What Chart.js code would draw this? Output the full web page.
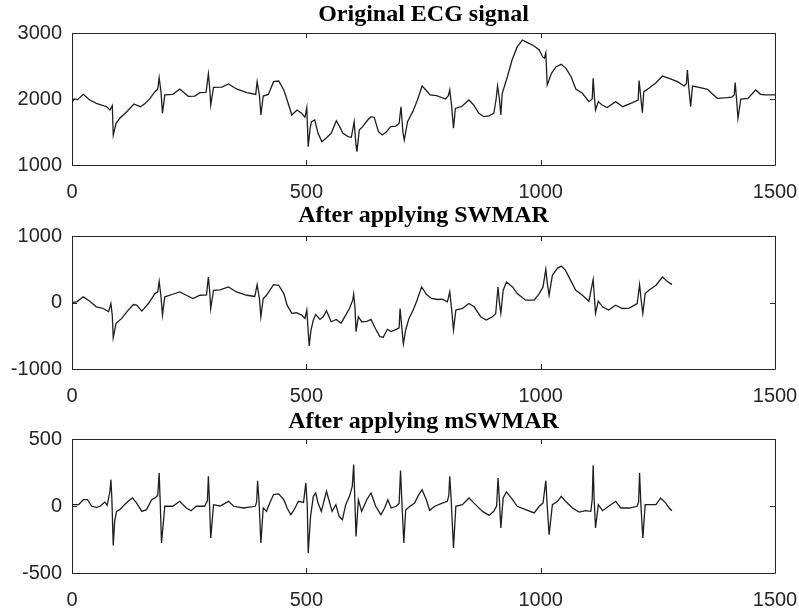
<!DOCTYPE html>
<html>
<head>
    <title>ECG signal</title>
    <script src="https://cdn.jsdelivr.net/npm/chart.js"></script>
    <style>
        body {
            margin: 0;
            padding: 0;
            background-color: #fff;
        }

        .panel {
            position: absolute;
            left: 0;
        }
    </style>
</head>
<body>
    <div class="panel" style="top: 0px;"><canvas id="chart1" width="799" height="200"></canvas></div>
    <div class="panel" style="top: 200px;"><canvas id="chart2" width="799" height="205"></canvas></div>
    <div class="panel" style="top: 405px;"><canvas id="chart3" width="799" height="206"></canvas></div>

    <script>
        // sample index, shared x axis 0..1500
        var xTicks = [0, 500, 1000, 1500];

        // Original ECG signal
        var ecgX = [0, 4, 12, 24, 38, 52, 74, 81, 86, 88, 94, 102, 117, 132, 146, 156, 166, 177, 183, 186, 190, 193, 198, 215, 230, 248, 262, 273, 286, 291, 294, 296, 302, 320, 334, 351, 373, 392, 395, 400, 403, 408, 419, 430, 441, 452, 459, 469, 480, 490, 497, 501, 504, 508, 511, 518, 525, 533, 542, 553, 564, 571, 578, 589, 596, 602, 606, 608, 613, 620, 631, 638, 645, 654, 662, 671, 680, 691, 698, 702, 706, 709, 716, 727, 737, 747, 755, 764, 778, 797, 803, 806, 810, 814, 818, 832, 847, 857, 868, 879, 890, 900, 905, 908, 912, 915, 918, 929, 939, 950, 961, 972, 986, 997, 1004, 1008, 1011, 1014, 1023, 1033, 1044, 1054, 1065, 1075, 1089, 1103, 1110, 1112, 1115, 1117, 1123, 1131, 1142, 1160, 1175, 1196, 1208, 1210, 1214, 1217, 1220, 1231, 1245, 1260, 1274, 1292, 1306, 1311, 1313, 1317, 1320, 1324, 1338, 1356, 1366, 1377, 1398, 1408, 1413, 1415, 1418, 1421, 1427, 1442, 1459, 1469, 1480, 1500];
        var ecgY = [1935, 2000, 1990, 2071, 1985, 1935, 1883, 1833, 1900, 1455, 1632, 1708, 1808, 1924, 1883, 1930, 2005, 2111, 2150, 2323, 2100, 1783, 2061, 2071, 2152, 2040, 2045, 2096, 2100, 2379, 2150, 1909, 2177, 2180, 2227, 2152, 2096, 2070, 2263, 2050, 1758, 2045, 2070, 2263, 2273, 2137, 1985, 1758, 1833, 1783, 1722, 1869, 1278, 1550, 1656, 1682, 1480, 1354, 1405, 1480, 1672, 1581, 1480, 1430, 1420, 1656, 1300, 1202, 1530, 1581, 1682, 1732, 1720, 1505, 1455, 1505, 1581, 1590, 1632, 1883, 1500, 1379, 1656, 1808, 1985, 2197, 2137, 2061, 2050, 2000, 2050, 2137, 1900, 1556, 1858, 1890, 1985, 1909, 1783, 1732, 1745, 1783, 2000, 2197, 2000, 1758, 2086, 2338, 2591, 2793, 2894, 2854, 2803, 2743, 2641, 2620, 2700, 2212, 2389, 2490, 2525, 2465, 2338, 2151, 2086, 1960, 2000, 2313, 2000, 1833, 1960, 1909, 1870, 1960, 1883, 1944, 1985, 2278, 2000, 1793, 2111, 2162, 2238, 2348, 2313, 2263, 2197, 2230, 2439, 2100, 1883, 2197, 2177, 2147, 2080, 2010, 2020, 2030, 2060, 2248, 2000, 1707, 2000, 2010, 2137, 2071, 2061, 2061];

        // After applying SWMAR
        var swmarX = [0, 10, 24, 38, 52, 67, 78, 83, 86, 88, 94, 106, 120, 131, 138, 149, 163, 177, 183, 186, 190, 193, 198, 215, 230, 244, 258, 273, 287, 291, 294, 296, 302, 316, 334, 351, 373, 390, 395, 400, 403, 408, 415, 430, 441, 452, 459, 469, 479, 490, 497, 501, 506, 510, 515, 520, 529, 536, 543, 553, 564, 574, 584, 592, 599, 601, 604, 606, 611, 618, 629, 638, 647, 657, 664, 673, 681, 692, 698, 700, 704, 707, 712, 719, 728, 735, 746, 756, 767, 780, 790, 801, 806, 810, 814, 819, 833, 847, 858, 872, 884, 897, 904, 909, 912, 915, 920, 927, 940, 950, 968, 986, 997, 1005, 1011, 1014, 1018, 1025, 1036, 1044, 1053, 1064, 1075, 1089, 1103, 1112, 1115, 1117, 1123, 1132, 1145, 1160, 1174, 1189, 1206, 1211, 1215, 1218, 1223, 1231, 1246, 1260, 1270, 1280];
        var swmarY = [0, 10, 85, 20, -65, -90, -140, -15, -200, -527, -313, -239, -114, -30, -40, -129, -15, 134, 160, 318, 80, -189, 85, 124, 159, 109, 60, 109, 115, 383, 150, -90, 184, 190, 234, 159, 109, 90, 269, 50, -214, 60, 109, 269, 259, 134, -40, -164, -154, -189, -239, -114, -652, -413, -264, -179, -254, -214, -124, -289, -254, -313, -189, -90, 35, 124, -100, -438, -214, -289, -285, -254, -388, -512, -522, -403, -438, -403, -380, -90, -400, -622, -413, -239, -114, 10, 234, 124, 60, 45, 50, 10, 159, -100, -413, -114, -90, -15, -65, -214, -264, -214, -170, 234, 0, -164, 184, 308, 234, 134, 35, 35, 134, 234, 498, 300, 109, 408, 517, 547, 483, 333, 184, 109, 20, 348, 50, -164, 20, -65, -114, -40, -90, -85, -15, 269, 0, -164, 134, 184, 259, 383, 318, 269];

        // After applying mSWMAR
        var mswmarX = [0, 14, 24, 33, 42, 52, 60, 70, 75, 81, 83, 85, 88, 91, 95, 102, 112, 120, 129, 138, 149, 159, 170, 177, 183, 186, 188, 191, 198, 215, 230, 244, 254, 265, 283, 289, 291, 293, 296, 302, 316, 334, 345, 366, 391, 394, 396, 399, 403, 408, 415, 422, 430, 441, 452, 459, 467, 476, 483, 494, 499, 502, 504, 509, 515, 520, 525, 532, 543, 548, 555, 563, 570, 577, 584, 592, 598, 601, 603, 606, 611, 618, 629, 638, 648, 659, 667, 674, 681, 692, 698, 701, 704, 708, 712, 721, 731, 738, 747, 756, 763, 774, 790, 801, 804, 806, 809, 814, 819, 833, 847, 861, 876, 890, 900, 906, 909, 912, 915, 920, 927, 940, 950, 968, 986, 997, 1005, 1011, 1014, 1018, 1025, 1036, 1044, 1053, 1068, 1082, 1096, 1107, 1110, 1112, 1114, 1117, 1123, 1132, 1145, 1160, 1171, 1189, 1206, 1209, 1211, 1214, 1218, 1223, 1231, 1246, 1256, 1267, 1274, 1280];
        var mswmarY = [10, 10, 47, 47, -2, -10, -2, 30, 5, 110, 197, 60, -294, -115, -40, -27, 10, 35, 60, 22, -40, -27, 47, 60, 80, 247, 50, -276, -2, -2, 35, -15, -35, -2, -2, 40, 222, 60, -239, 10, 0, 35, -2, -15, -2, 30, 189, 40, -276, -15, -40, 22, 85, 90, 47, -15, -65, -15, 35, 27, 172, 0, -351, -77, 72, 97, 22, -40, 110, 47, -40, 10, -77, -102, 10, 72, 147, 309, 100, -227, 47, -40, 47, 97, -2, -65, -15, 47, -15, -2, 20, 265, 20, -276, -30, -2, 22, 72, 122, 47, -32, -2, 22, 35, 80, 222, 50, -314, -2, 10, 60, 10, -40, -70, -40, 0, 209, 40, -164, 60, 105, 47, -2, -27, -52, -2, 22, 189, 0, -214, 10, 35, 72, 35, -15, -45, -35, -40, 50, 304, 60, -164, 10, -35, -2, 35, -15, -15, -2, 30, 247, 0, -239, 10, 10, 10, 60, 22, -15, -35];

        var inkColor = '#262626';

        // axes box with inward tick marks, like the original figure
        var framePlugin = {
            id: 'frame',
            afterDraw: function(chart) {
                var ctx = chart.ctx;
                var a = chart.chartArea;
                var xs = chart.scales.x;
                var ys = chart.scales.y;
                var len = 5;
                ctx.save();
                ctx.strokeStyle = inkColor;
                ctx.lineWidth = 1;
                ctx.beginPath();
                ctx.rect(Math.round(a.left) + 0.5, Math.round(a.top) + 0.5,
                         Math.round(a.right - a.left), Math.round(a.bottom - a.top));
                xs.ticks.forEach(function(t) {
                    var px = Math.round(xs.getPixelForValue(t.value)) + 0.5;
                    ctx.moveTo(px, a.bottom);
                    ctx.lineTo(px, a.bottom - len);
                    ctx.moveTo(px, a.top);
                    ctx.lineTo(px, a.top + len);
                });
                ys.ticks.forEach(function(t) {
                    var py = Math.round(ys.getPixelForValue(t.value)) + 0.5;
                    ctx.moveTo(a.left, py);
                    ctx.lineTo(a.left + len, py);
                    ctx.moveTo(a.right, py);
                    ctx.lineTo(a.right - len, py);
                });
                ctx.stroke();
                ctx.restore();
            }
        };

        function plainNumber(value) {
            return String(value);
        }

        function makeChart(id, xs, ys, title, yMin, yMax, yStep, titlePad, xAxisHeight) {
            var points = [];
            for (var i = 0; i < xs.length; i++) {
                points.push({ x: xs[i], y: ys[i] });
            }
            var ctx = document.getElementById(id).getContext('2d');
            return new Chart(ctx, {
                type: 'line',
                data: {
                    datasets: [{
                        data: points,
                        borderColor: '#1e1e1e',
                        borderWidth: 1.3,
                        pointRadius: 0,
                        tension: 0,
                        fill: false
                    }]
                },
                options: {
                    responsive: false,
                    animation: false,
                    devicePixelRatio: 1,
                    layout: {
                        padding: { left: 0, right: 24, top: 0, bottom: 0 }
                    },
                    plugins: {
                        legend: { display: false },
                        tooltip: { enabled: false },
                        title: {
                            display: true,
                            text: title,
                            fullSize: false,
                            color: '#000',
                            font: { family: 'Liberation Serif', size: 24, weight: 'bold', lineHeight: 1.2 },
                            padding: titlePad
                        }
                    },
                    scales: {
                        x: {
                            type: 'linear',
                            min: 0,
                            max: 1500,
                            afterBuildTicks: function(scale) {
                                scale.ticks = xTicks.map(function(v) { return { value: v }; });
                            },
                            afterFit: function(scale) {
                                scale.height = xAxisHeight;
                                scale.paddingLeft = 0;
                                scale.paddingRight = 0;
                            },
                            grid: { display: false, drawTicks: false },
                            border: { display: false },
                            ticks: {
                                padding: 15,
                                maxRotation: 0,
                                color: inkColor,
                                font: { family: 'Liberation Sans', size: 20 },
                                callback: plainNumber
                            }
                        },
                        y: {
                            min: yMin,
                            max: yMax,
                            afterFit: function(scale) {
                                scale.width = 72;
                                scale.paddingTop = 0;
                                scale.paddingBottom = 0;
                            },
                            grid: { display: false, drawTicks: false },
                            border: { display: false },
                            ticks: {
                                stepSize: yStep,
                                padding: 10,
                                color: inkColor,
                                font: { family: 'Liberation Sans', size: 20 },
                                callback: plainNumber
                            }
                        }
                    }
                },
                plugins: [framePlugin]
            });
        }

        makeChart('chart1', ecgX, ecgY, 'Original ECG signal', 1000, 3000, 1000, { top: 0.2, bottom: 4 }, 35);
        makeChart('chart2', swmarX, swmarY, 'After applying SWMAR', -1000, 1000, 1000, { top: 1.5, bottom: 5.7 }, 36);
        makeChart('chart3', mswmarX, mswmarY, 'After applying mSWMAR', -500, 500, 500, { top: 2.5, bottom: 2.7 }, 38);
    </script>
</body>
</html>
